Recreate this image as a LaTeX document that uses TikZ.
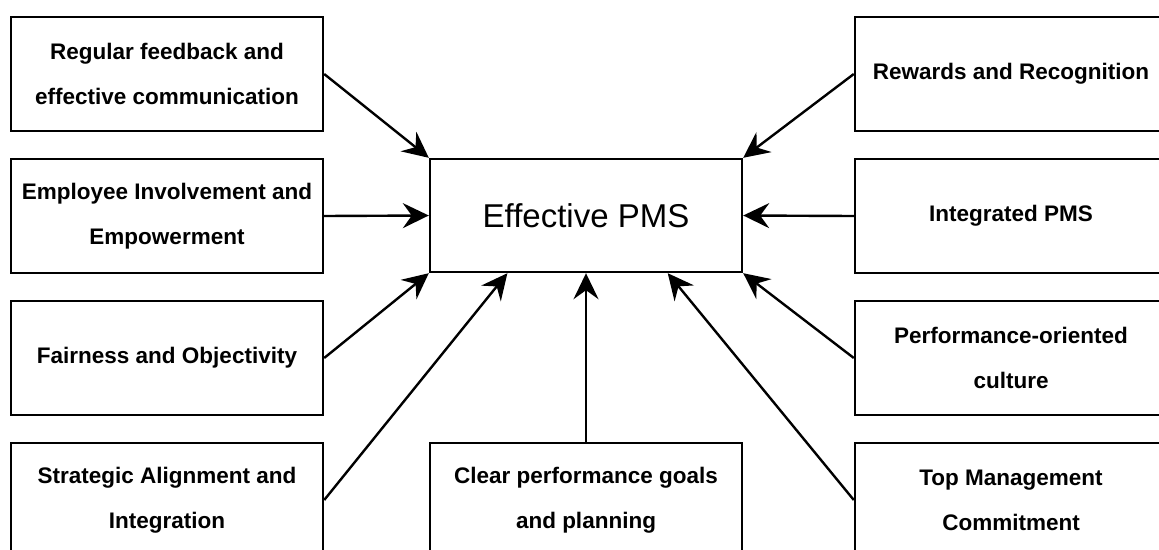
\documentclass[tikz,border=0pt]{standalone}
\usepackage{fontspec}
\setmainfont{Liberation Sans}
\usetikzlibrary{positioning,arrows.meta,calc}
\tikzset{
  factor/.style={draw=black,line width=2.4pt,fill=white,align=center,
                 minimum width=312pt,minimum height=114pt,inner sep=4pt,
                 font=\fontsize{22.5}{45}\selectfont\bfseries},
  core/.style={draw=black,line width=2.4pt,fill=white,align=center,
               minimum width=312pt,minimum height=113pt,
               font=\fontsize{33}{40}\selectfont},
  arr/.style={-{Stealth[length=26pt,width=25pt,inset=9pt]},line width=2.4pt,draw=black}
}
\begin{document}
\begin{tikzpicture}[x=1pt,y=-1pt]
  \useasboundingbox (0,0) rectangle (1159,549);
  \clip (0,0) rectangle (1159,549);
  % centre
  \node[core] (pms) at (586,215.5) {Effective PMS};
  % left column
  \node[factor] (feedback) at (167,74) {Regular feedback and\\effective communication};
  \node[factor] (involve) at (167,216) {Employee Involvement and\\Empowerment};
  \node[factor] (fair) at (167,358) {Fairness and Objectivity};
  \node[factor] (align) at (167,500) {Strategic Alignment and\\Integration};
  % bottom
  \node[factor] (goals) at (586,500) {Clear performance goals\\and planning};
  % right column
  \node[factor] (reward) at (1011,74) {Rewards and Recognition};
  \node[factor] (integ) at (1011,216) {Integrated PMS};
  \node[factor] (culture) at (1011,358) {Performance-oriented\\culture};
  \node[factor] (top) at (1011,500) {Top Management\\Commitment};
  % connectors
  \draw[arr] (feedback.east) -- (pms.north west);
  \draw[arr] (involve.east) -- (pms.west);
  \draw[arr] (fair.east) -- (pms.south west);
  \draw[arr] (align.east) -- ($(pms.south west)!0.25!(pms.south east)$);
  \draw[arr] (goals.north) -- (pms.south);
  \draw[arr] (top.west) -- ($(pms.south west)!0.76!(pms.south east)$);
  \draw[arr] (culture.west) -- (pms.south east);
  \draw[arr] (integ.west) -- (pms.east);
  \draw[arr] (reward.west) -- (pms.north east);
\end{tikzpicture}
\end{document}
